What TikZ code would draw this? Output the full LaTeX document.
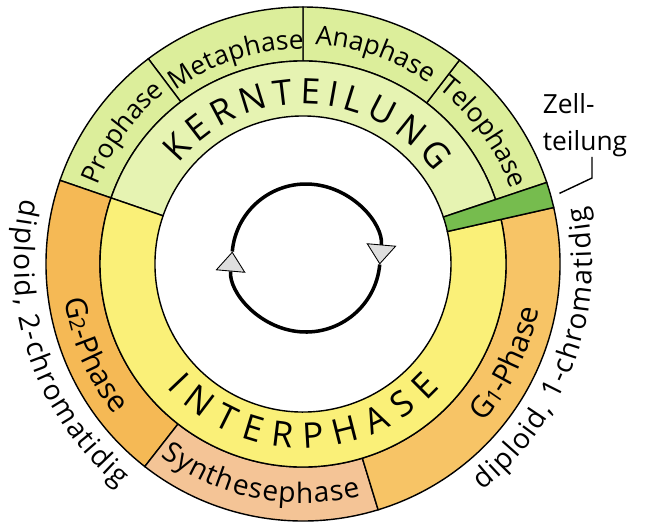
\documentclass[tikz,border=0pt]{standalone}
\usepackage{fontspec}
\setmainfont{Open Sans}
\usetikzlibrary{arrows.meta, decorations.text, positioning}
\definecolor{kernouter}{RGB}{220,238,155}
\definecolor{kerninner}{RGB}{230,243,178}
\definecolor{interinner}{RGB}{250,240,120}
\definecolor{gphase}{RGB}{245,185,85}
\definecolor{gonephase}{RGB}{247,196,102}
\definecolor{synthese}{RGB}{244,196,150}
\definecolor{zellband}{RGB}{118,188,78}
\definecolor{tipgray}{RGB}{222,222,222}
\tikzset{
    ringline/.style={draw=black, line width=0.8pt},
    cycleline/.style={draw=black, line width=2pt, -{Triangle[width=0.6cm, length=0.4cm, fill=tipgray, line width=0.5pt]}},
    leader/.style={draw=black, line width=0.8pt},
    zelltext/.style={align=left, inner sep=0pt, font=\fontsize{15}{21}\selectfont},
    arctext/.style={decorate, decoration={text along path, text align=center, text={#1}}},
    fittext/.style={decorate, decoration={text along path, text align={fit to path}, text={#1}}}
}
% ring segment: start angle, end angle, inner radius, outer radius, fill
\newcommand{\ringpart}[5]{%
    \filldraw[ringline, fill=#5] (#1:#3) arc[start angle=#1, end angle=#2, radius=#3]
        -- (#2:#4) arc[start angle=#2, end angle=#1, radius=#4] -- cycle;}
% clockwise label, tops outward: centre angle, radius, size, text
\newcommand{\toplabel}[4]{%
    \path[arctext={|\fontsize{#3}{#3}\selectfont|#4}] ({#1+35}:#2) arc[start angle={#1+35}, end angle={#1-35}, radius=#2];}
% counter-clockwise label, tops inward: centre angle, radius, size, text
\newcommand{\bottomlabel}[4]{%
    \path[arctext={|\fontsize{#3}{#3}\selectfont|#4}] ({#1-40}:#2) arc[start angle={#1-40}, end angle={#1+40}, radius=#2];}
% counter-clockwise label, tops inward, spread from start to end angle
\newcommand{\fitlabel}[5]{%
    \path[fittext={|\fontsize{#4}{#4}\selectfont|#5}] (#1:#3) arc[start angle=#1, end angle=#2, radius=#3];}

\begin{document}
\begin{tikzpicture}[x=0.02cm, y=0.02cm]
    \useasboundingbox (-303,-258) rectangle (345,264);

    % Kernteilung, outer ring
    \foreach \a/\b in {18.5/52.5, 52.5/90, 90/127, 127/161}
        \ringpart{\a}{\b}{203}{257}{kernouter};
    % Interphase, outer ring
    \ringpart{161}{232}{203}{257}{gphase}
    \ringpart{232}{287}{203}{257}{synthese}
    \ringpart{287}{372.7}{203}{257}{gonephase}
    % inner ring
    \ringpart{18.5}{161}{148}{203}{kerninner}
    \ringpart{161}{372.7}{148}{203}{interinner}
    % Zellteilung
    \ringpart{12.7}{18.5}{148}{257}{zellband}

    % Phase labels
    \toplabel{144}{220}{15}{Prophase}
    \toplabel{108}{215}{15}{Metaphase}
    \toplabel{71}{220}{15}{Anaphase}
    \toplabel{36}{221}{15}{Telophase}
    \bottomlabel{203.5}{241}{17}{G|\fontsize{12}{12}\selectfont|2|\fontsize{17}{17}\selectfont|-Phase}
    \fitlabel{233.5}{284}{239}{16}{Synthesephase}
    \bottomlabel{334}{240}{17}{G|\fontsize{12}{12}\selectfont|1|\fontsize{17}{17}\selectfont|-Phase}
    \path[fittext={|\fontsize{20}{20}\selectfont|KERNTEILUNG}] (141:160) arc[start angle=141, end angle=35, radius=160];
    \path[fittext={|\fontsize{20}{20}\selectfont|INTERPHASE}] (222:184) arc[start angle=222, end angle=318, radius=184];

    % Outer notes
    \fitlabel{167}{230.5}{289}{16}{diploid, 2-chromatidig}
    \fitlabel{308.5}{371.5}{289}{16}{diploid, 1-chromatidig}
    \node[zelltext] (zell) at (282,139) {Zell-\\teilung};
    \coordinate (bend) at (289,86);
    \coordinate (bandtip) at (15.4:266);
    \draw[leader] (zell.south -| bend) -- (bend) -- (bandtip);

    % Cycle arrows
    \coordinate (cyc) at (3,6);
    \draw[cycleline] ([shift={(-5:74)}]cyc) arc[start angle=-5, end angle=-185, radius=74];
    \draw[cycleline] ([shift={(175:74)}]cyc) arc[start angle=175, end angle=-5, radius=74];
\end{tikzpicture}
\end{document}
